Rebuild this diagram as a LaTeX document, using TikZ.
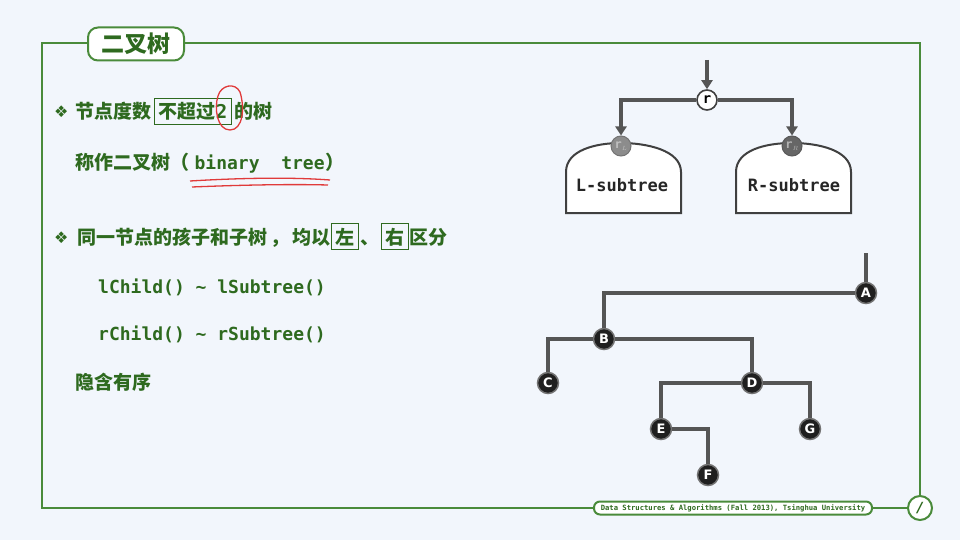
\documentclass[tikz,border=0pt]{standalone}
\usepackage{fontspec}
\usetikzlibrary{arrows.meta}
\newfontfamily\cjk{Noto Sans CJK SC}
\newfontfamily\mono{DejaVu Sans Mono}
\newfontfamily\dejavu{DejaVu Sans}
\definecolor{bg}{HTML}{F2F6FC}
\definecolor{frameg}{HTML}{4A8B3B}
\definecolor{textg}{HTML}{2E6A1F}
\definecolor{edgeg}{HTML}{555555}
\definecolor{redmark}{HTML}{E03A3A}
\tikzset{
  cjktxt/.style={anchor=base west, inner xsep=0pt, inner ysep=2pt, text=textg, font=\cjk\bfseries\fontsize{19}{21}\selectfont},
  codetxt/.style={anchor=base west, inner xsep=0pt, inner ysep=2pt, text=textg, font=\mono\bfseries\fontsize{18}{20}\selectfont},
  boxed/.style={cjktxt, draw=textg, line width=1pt, inner xsep=4pt, inner ysep=4pt},
  bulletmark/.style={anchor=base west, inner sep=0pt, text=textg, font=\dejavu\bfseries\fontsize{16}{18}\selectfont},
  edge/.style={draw=edgeg, line width=4.5pt},
  arrowedge/.style={edge, -{Triangle[length=9pt,width=11pt]}},
  tnode/.style={circle, fill=black!88, draw=black!55, line width=1.5pt, minimum size=21pt, inner sep=0pt, text=white, font=\dejavu\bfseries\fontsize{13}{13}\selectfont},
  dome/.style={fill=white, draw=black!75, line width=2pt},
  domelabel/.style={font=\mono\bfseries\fontsize{17}{19}\selectfont, text=black!85},
}
\begin{document}
\begin{tikzpicture}[x=1pt,y=-1pt]
\useasboundingbox (0,0) rectangle (960,540);
\fill[bg] (0,0) rectangle (960,540);
% frame
\draw[frameg, line width=2pt] (42,43) rectangle (920,508);
\node[draw=frameg, fill=white, line width=2pt, rounded corners=10pt, minimum width=96pt, minimum height=33pt, text=textg, font=\cjk\bfseries\fontsize{23}{26}\selectfont] (title) at (136,44) {二叉树};
\node[draw=frameg, fill=white, line width=2pt, rounded corners=6pt, minimum width=278pt, minimum height=13pt, inner sep=0pt, text=textg, font=\mono\bfseries\fontsize{7.2}{8}\selectfont] (footer) at (733,508) {Data Structures \& Algorithms (Fall 2013), Tsinghua University};
\node[circle, draw=frameg, fill=white, line width=2pt, minimum size=24pt, inner sep=0pt, text=textg, font=\dejavu\bfseries\itshape\fontsize{14}{14}\selectfont] (page) at (920,508) {/};
% line 1
\node[bulletmark] (b1) at (54,118) {❖};
\node[cjktxt] (l1a) at (75,119) {节点度数};
\node[boxed] (l1b) at ([xshift=3pt]l1a.base east) {不超过{\mono 2}};
\node[cjktxt] (l1c) at ([xshift=2pt]l1b.base east) {的树};
\draw[redmark, line width=1.3pt] (240,92) .. controls (245,108) and (243,130) .. (230,130) .. controls (217,130) and (214,108) .. (218,96) .. controls (221,85) and (235,82) .. (240,92);
% line 2
\node[cjktxt] (l2a) at (75,170) {称作二叉树（};
\node[codetxt] (l2b) at ([xshift=5pt]l2a.base east) {binary\ \ tree};
\node[cjktxt] (l2c) at (l2b.base east) {）};
\draw[redmark, line width=1.3pt] (190,181) .. controls (240,178) and (290,177) .. (330,180);
\draw[redmark, line width=1.3pt] (192,187) .. controls (240,185) and (290,184) .. (328,185);
% line 3
\node[bulletmark] (b3) at (54,243) {❖};
\node[cjktxt] (l3a) at (77,244) {同一节点的孩子和子树\hspace{3pt}，\hspace{3pt}均以};
\node[boxed] (l3b) at ([xshift=1pt]l3a.base east) {左};
\node[cjktxt] (l3c) at ([xshift=1pt]l3b.base east) {、};
\node[boxed] (l3d) at ([xshift=1pt]l3c.base east) {右};
\node[cjktxt] (l3e) at ([xshift=0pt]l3d.base east) {区分};
% code lines
\node[codetxt] (c1) at (98,293) {lChild() \textasciitilde{} lSubtree()};
\node[codetxt] (c2) at (98,340) {rChild() \textasciitilde{} rSubtree()};
\node[cjktxt] (l4) at (75,389) {隐含有序};
% top diagram
\draw[dome] (566,213) -- (566,172) .. controls (566,150) and (596,143) .. (621,143) .. controls (646,143) and (681,150) .. (681,172) -- (681,213) -- cycle;
\draw[dome] (736,213) -- (736,172) .. controls (736,150) and (766,143) .. (792,143) .. controls (818,143) and (851,150) .. (851,172) -- (851,213) -- cycle;
\node[domelabel] (Llab) at (622,185) {L-subtree};
\node[domelabel] (Rlab) at (794,185) {R-subtree};
\node[circle, fill=white, draw=black!75, line width=1.6pt, minimum size=20pt, inner sep=0pt, font=\mono\bfseries\fontsize{14}{14}\selectfont] (r) at (707,100) {r};
\node[circle, fill=black!45, draw=black!55, line width=1pt, minimum size=20pt, inner sep=0pt, text=black!25, font=\mono\bfseries\fontsize{12}{12}\selectfont] (rL) at (621,146) {r$_{\scriptscriptstyle L}$};
\node[circle, fill=black!60, draw=black!65, line width=1pt, minimum size=20pt, inner sep=0pt, text=black!30, font=\mono\bfseries\fontsize{12}{12}\selectfont] (rR) at (792,146) {r$_{\scriptscriptstyle R}$};
\coordinate (rin) at (707,60);
\draw[arrowedge] (rin) -- (r.north);
\draw[arrowedge] (r.west) -| (rL.north);
\draw[arrowedge] (r.east) -| (rR.north);
% bottom tree
\coordinate (Ain) at (866,253);
\node[tnode] (A) at (866,293) {A};
\node[tnode] (B) at (604,339) {B};
\node[tnode] (C) at (548,383) {C};
\node[tnode] (D) at (752,383) {D};
\node[tnode] (E) at (661,429) {E};
\node[tnode] (F) at (708,475) {F};
\node[tnode] (G) at (810,429) {G};
\draw[edge] (Ain) -- (A.north);
\draw[edge] (A.west) -| (B.north);
\draw[edge] (B.west) -| (C.north);
\draw[edge] (B.east) -| (D.north);
\draw[edge] (D.west) -| (E.north);
\draw[edge] (D.east) -| (G.north);
\draw[edge] (E.east) -| (F.north);
\end{tikzpicture}
\end{document}
